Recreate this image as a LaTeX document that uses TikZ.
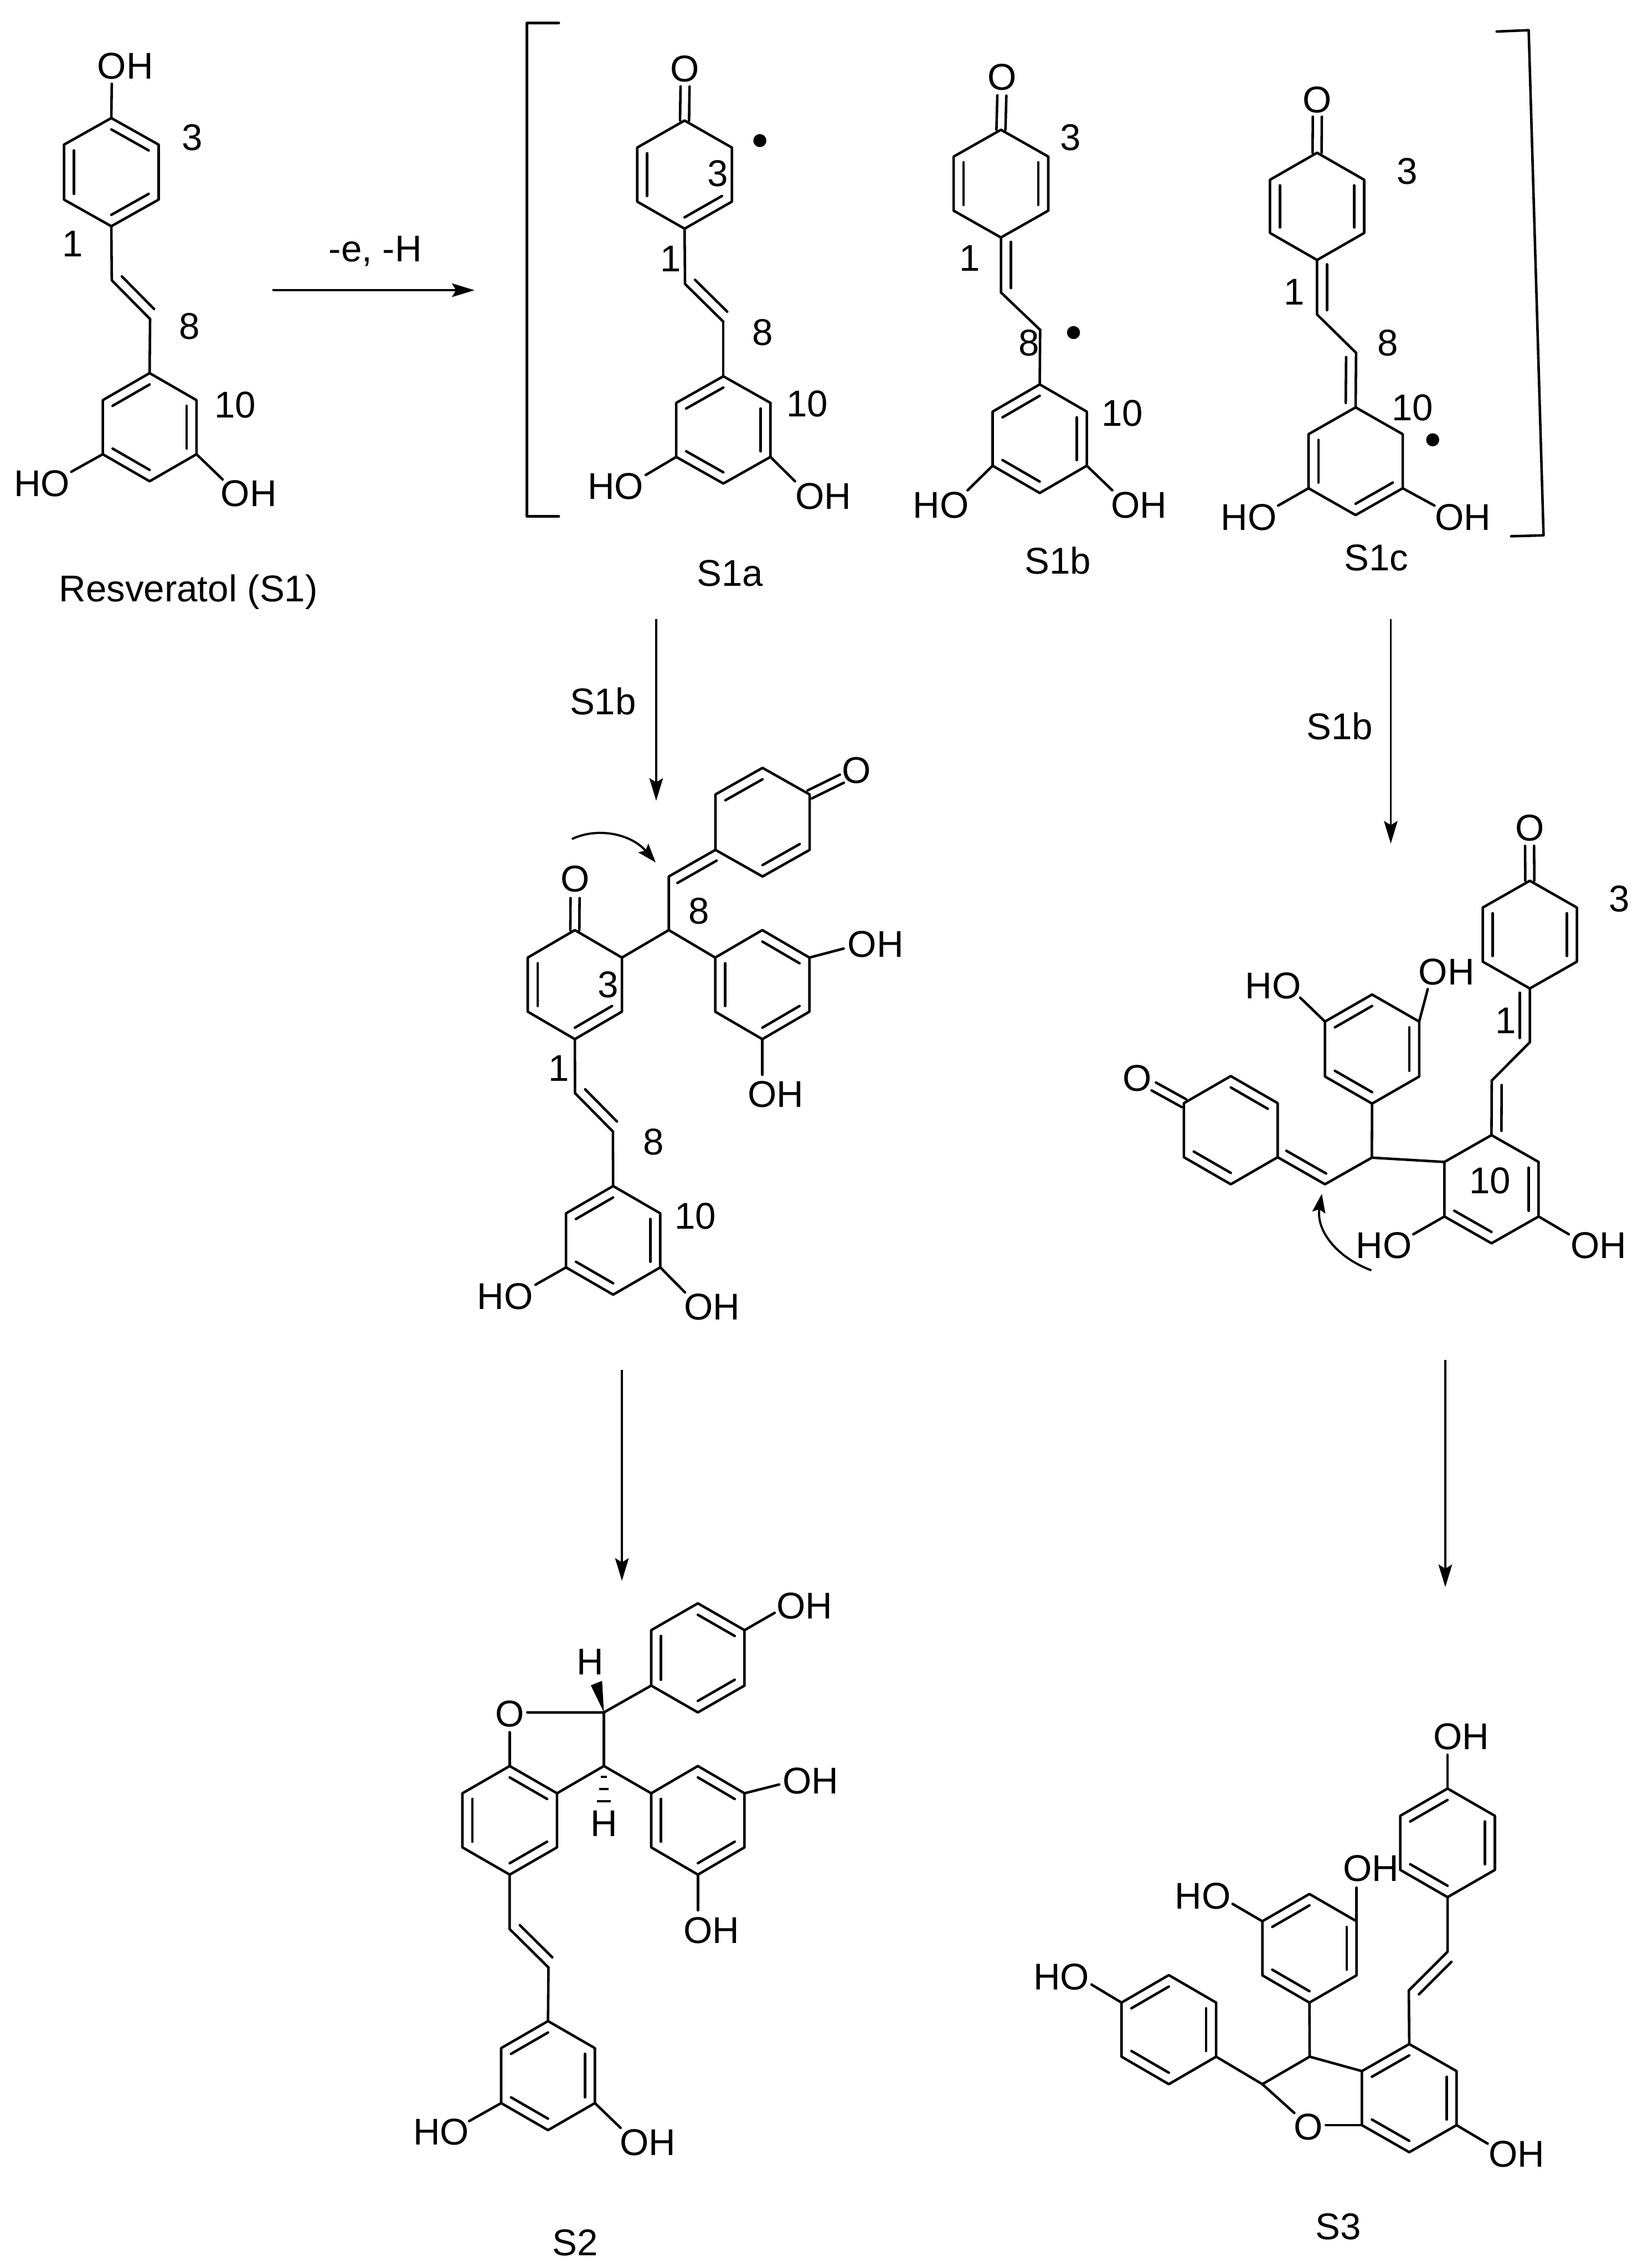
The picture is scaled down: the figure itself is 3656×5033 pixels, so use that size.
\documentclass[tikz,border=0pt]{standalone}
\usepackage{fontspec}
\setmainfont{Liberation Sans}
\usetikzlibrary{calc,arrows.meta}
\tikzset{
  bond/.style={line width=.056cm,line cap=round,line join=round},
  rxnarrow/.style={line width=.048cm,-{Stealth[length=.5cm,width=.3cm,inset=.09cm]}},
  curlyarrow/.style={line width=.048cm,-{Stealth[length=.42cm,width=.29cm,inset=.07cm]}},
  lbl/.style={inner sep=0pt,outer sep=0pt,text height=.58cm,text depth=0pt,anchor=center,font=\fontsize{23.5}{23.5}\selectfont},
  radical/.style={circle,fill=black,inner sep=0pt,minimum size=.29cm},
}
% name, cx, cy, rx, ry(outer), ry(inner)
\newcommand{\hexring}[6]{%
  \coordinate (#1c) at (#2,#3);
  \coordinate (#1-1) at (#2,{#3-#5});
  \coordinate (#1-2) at ({#2+#4},{#3-#6});
  \coordinate (#1-3) at ({#2+#4},{#3+#6});
  \coordinate (#1-4) at (#2,{#3+#5});
  \coordinate (#1-5) at ({#2-#4},{#3+#6});
  \coordinate (#1-6) at ({#2-#4},{#3-#6});
  \draw[bond] (#1-1)--(#1-2)--(#1-3)--(#1-4)--(#1-5)--(#1-6)--cycle;}
% inner lines of ring double bonds: ring, list of edges i/j
\newcommand{\dblin}[2]{%
  \foreach \i/\j in {#2}{\draw[bond] ($(#1c)!.79!(#1-\i)$) -- ($(#1c)!.79!(#1-\j)$);}}
\newcommand{\dblpar}[3]{%
  \draw[bond] ($(#1)!.08!(#2)!#3!90:(#2)$) -- ($(#2)!.08!(#1)!#3!-90:(#1)$);}
\newcommand{\dblcenter}[2]{%
  \draw[bond] ($(#1)!.1cm!90:(#2)$) -- ($(#2)!.1cm!-90:(#1)$);
  \draw[bond] ($(#1)!.1cm!-90:(#2)$) -- ($(#2)!.1cm!90:(#1)$);}
\newcommand{\pt}[3]{\coordinate (#1) at (#2,#3);}
\newcommand{\bondto}[4]{\coordinate (#2) at (#3,#4); \draw[bond] (#1) -- (#2);}
\newcommand{\chemlab}[4]{\node[lbl] (#1) at (#2,#3) {#4};}
\begin{document}
\begin{tikzpicture}[x=.01cm,y=-.01cm]
\useasboundingbox (0,0) rectangle (3656,5033);

% ---------- S1 ----------
\hexring{aA}{247}{382}{105}{120}{61}
\dblin{aA}{1/2,3/4,5/6}
\bondto{aA-1}{aO}{248}{186}
\pt{av1}{248}{622}\pt{av2}{333}{708}
\draw[bond] (aA-4)--(av1)--(av2);
\dblpar{av1}{av2}{.22cm}
\hexring{aB}{332}{948}{104}{120}{60}
\draw[bond] (av2)--(aB-1);
\dblin{aB}{6/1,2/3,4/5}
\bondto{aB-5}{aHOe}{158}{1047}
\bondto{aB-3}{aOHe}{494}{1064}
\chemlab{aOH1}{278}{146}{OH}
\chemlab{a3}{427}{304}{3}
\chemlab{a1}{161}{541}{1}
\chemlab{a8}{421}{723}{8}
\chemlab{a10}{522}{898}{10}
\chemlab{aHO}{93}{1072}{HO}
\chemlab{aOH2}{552}{1095}{OH}
\chemlab{aName}{418}{1306}{Resveratol (S1)}

% arrow 1
\chemlab{rxn1}{833}{551}{-e, -H}
\pt{ar1s}{605}{644}\pt{ar1e}{1053}{644}
\draw[rxnarrow] (ar1s)--(ar1e);

% left bracket
\pt{bl1}{1240}{51}\pt{bl2}{1169}{51}\pt{bl3}{1169}{1146}\pt{bl4}{1240}{1146}
\draw[bond] (bl1)--(bl2)--(bl3)--(bl4);

% ---------- S1a ----------
\hexring{bA}{1519}{387.5}{105}{120}{60}
\dblin{bA}{5/6,3/4}
\pt{bO}{1520}{192}
\dblcenter{bO}{bA-1}
\pt{bv1}{1520}{630}\pt{bv2}{1605}{714}
\draw[bond] (bA-4)--(bv1)--(bv2);
\dblpar{bv1}{bv2}{.22cm}
\hexring{bB}{1605}{954}{104.5}{119}{60}
\draw[bond] (bv2)--(bB-1);
\dblin{bB}{6/1,2/3,4/5}
\bondto{bB-5}{bHOe}{1433}{1054}
\bondto{bB-3}{bOHe}{1764}{1068}
\chemlab{bOt}{1520}{152}{O}
\node[radical] (bdot) at (1686,312) {};
\chemlab{b3}{1593}{384}{3}
\chemlab{b1}{1488}{574}{1}
\chemlab{b8}{1692}{737}{8}
\chemlab{b10}{1791}{896}{10}
\chemlab{bHO}{1366}{1079}{HO}
\chemlab{bOH}{1827}{1101}{OH}
\chemlab{bName}{1620}{1272}{S1a}

% ---------- S1b ----------
\hexring{cA}{2221}{407.5}{105}{119.5}{60}
\dblin{cA}{5/6,2/3}
\pt{cO}{2223}{212}
\dblcenter{cO}{cA-1}
\pt{cv1}{2221}{649}\pt{cv2}{2308}{732}
\draw[bond] (cA-4)--(cv1)--(cv2);
\dblpar{cA-4}{cv1}{.22cm}
\hexring{cB}{2307}{973.5}{104.5}{120.5}{60}
\draw[bond] (cv2)--(cB-1);
\dblin{cB}{6/1,2/3,4/5}
\bondto{cB-5}{cHOe}{2147}{1088}
\bondto{cB-3}{cOHe}{2468}{1088}
\chemlab{cOt}{2223}{171}{O}
\chemlab{c3}{2376}{304}{3}
\chemlab{c1}{2152}{573}{1}
\chemlab{c8}{2283}{761}{8}
\node[radical] (cdot) at (2382,738) {};
\chemlab{c10}{2490}{916}{10}
\chemlab{cHO}{2088}{1121}{HO}
\chemlab{cOH}{2527}{1121}{OH}
\chemlab{cName}{2347}{1244}{S1b}

% ---------- S1c ----------
\hexring{dA}{2922.5}{458}{104.5}{119}{59}
\dblin{dA}{5/6,2/3}
\pt{dO}{2923}{259}
\dblcenter{dO}{dA-1}
\pt{dv1}{2922.5}{698}\pt{dv2}{3009}{783}
\draw[bond] (dA-4)--(dv1)--(dv2);
\dblpar{dA-4}{dv1}{.22cm}
\hexring{dB}{3008}{1023.5}{104.5}{119.5}{60}
\draw[bond] (dv2)--(dB-1);
\dblpar{dv2}{dB-1}{-.22cm}
\dblin{dB}{5/6,3/4}
\bondto{dB-5}{dHOe}{2836}{1122}
\bondto{dB-3}{dOHe}{3183}{1122}
\chemlab{dOt}{2923}{221}{O}
\chemlab{d3}{3122}{379}{3}
\chemlab{d1}{2872}{648}{1}
\chemlab{d8}{3080}{761}{8}
\chemlab{d10}{3134}{904}{10}
\node[radical] (ddot) at (3179,976) {};
\chemlab{dHO}{2771}{1148}{HO}
\chemlab{dOH}{3246}{1148}{OH}
\chemlab{dName}{3054}{1237}{S1c}

% right bracket
\pt{br1}{3321}{70}\pt{br2}{3392}{67}\pt{br3}{3425}{1188}\pt{br4}{3353}{1190}
\draw[bond] (br1)--(br2)--(br3)--(br4);

% arrows S1b
\chemlab{rxn2}{1338}{1557}{S1b}
\pt{ar2s}{1456}{1374}\pt{ar2e}{1456}{1777}
\draw[rxnarrow] (ar2s)--(ar2e);
\chemlab{rxn3}{2973}{1612}{S1b}
\pt{ar3s}{3086}{1374}\pt{ar3e}{3086}{1872}
\draw[rxnarrow] (ar3s)--(ar3e);

% ---------- adduct, left ----------
\hexring{eT}{1692}{1824.5}{104.5}{120.5}{61.5}
\dblin{eT}{6/1,3/4}
\pt{eOe}{1868}{1728}
\dblcenter{eT-2}{eOe}
\pt{ev1}{1484}{1945}\pt{eC}{1484}{2064}
\draw[bond] (eT-5)--(ev1)--(eC);
\dblpar{eT-5}{ev1}{.22cm}
\hexring{eL}{1275.5}{2185}{104.5}{121}{60}
\dblin{eL}{5/6,3/4}
\hexring{eR}{1691.5}{2185}{104.5}{121}{60}
\dblin{eR}{1/2,5/6,3/4}
\draw[bond] (eL-2)--(eC)--(eR-6);
\pt{eO2}{1276}{1993}
\dblcenter{eO2}{eL-1}
\bondto{eR-2}{eOHe1}{1872}{2105}
\bondto{eR-4}{eOHe2}{1691.5}{2385}
\pt{ew1}{1276}{2426}\pt{ew2}{1360}{2511}
\draw[bond] (eL-4)--(ew1)--(ew2);
\dblpar{ew1}{ew2}{.22cm}
\hexring{eB}{1360.5}{2752.5}{104.5}{120.5}{60}
\draw[bond] (ew2)--(eB-1);
\dblin{eB}{6/1,2/3,4/5}
\bondto{eB-5}{eHOe}{1188}{2851}
\bondto{eB-3}{eOHe3}{1520}{2868}
\chemlab{eO1t}{1901}{1709}{O}
\chemlab{eO2t}{1276}{1950}{O}
\chemlab{e3}{1350}{2184}{3}
\chemlab{e8a}{1551}{2021}{8}
\chemlab{eOH1}{1943}{2095}{OH}
\chemlab{eOH2}{1721}{2428}{OH}
\chemlab{e1}{1240}{2370}{1}
\chemlab{e8b}{1450}{2533}{8}
\chemlab{e10}{1543}{2698}{10}
\chemlab{eHO}{1121}{2876}{HO}
\chemlab{eOH3}{1580}{2900}{OH}
\pt{ecs}{1269}{1862}\pt{ece}{1455}{1914}
\draw[curlyarrow] (ecs) .. controls (1325,1835) and (1400,1850) .. (ece);

% ---------- adduct, right ----------
\hexring{fT}{3394.5}{2074}{104.5}{119.5}{60}
\dblin{fT}{5/6,2/3}
\pt{fO}{3394}{1877}
\dblcenter{fO}{fT-1}
\pt{fv1}{3394.5}{2313}\pt{fv2}{3310}{2398}
\draw[bond] (fT-4)--(fv1)--(fv2);
\dblpar{fT-4}{fv1}{-.22cm}
\hexring{fR}{3309.5}{2639}{104.5}{120}{60.5}
\draw[bond] (fv2)--(fR-1);
\dblpar{fv2}{fR-1}{.22cm}
\dblin{fR}{2/3,4/5}
\bondto{fR-5}{fHOe}{3136}{2739}
\bondto{fR-3}{fOHe}{3481}{2739}
\pt{fC}{3044}{2569}
\draw[bond] (fC)--(fR-6);
\hexring{fU}{3044.5}{2328}{104.5}{121}{61}
\dblin{fU}{6/1,2/3,4/5}
\draw[bond] (fC)--(fU-4);
\bondto{fU-6}{fHOe2}{2885}{2214}
\bondto{fU-2}{fOHe2}{3168}{2195}
\hexring{fL}{2731}{2508}{104}{120}{60}
\dblin{fL}{1/2,4/5}
\pt{fv3}{2940}{2628}
\draw[bond] (fC)--(fv3)--(fL-3);
\dblpar{fv3}{fL-3}{-.22cm}
\pt{fOe}{2560}{2411}
\dblcenter{fL-6}{fOe}
\chemlab{fOt}{3394}{1837}{O}
\chemlab{f3}{3593}{1994}{3}
\chemlab{f1}{3341}{2264}{1}
\chemlab{f10}{3306}{2620}{10}
\chemlab{fHO}{3071}{2763}{HO}
\chemlab{fOH}{3547}{2763}{OH}
\chemlab{fHO2}{2825}{2187}{HO}
\chemlab{fOH2}{3210}{2156}{OH}
\chemlab{fOt2}{2523}{2392}{O}
\pt{fcs}{3043}{2819}\pt{fce}{2933}{2649}
\draw[curlyarrow] (fcs) .. controls (2965,2790) and (2920,2730) .. (fce);

% arrows down
\pt{ar4s}{1380}{3040}\pt{ar4e}{1380}{3508}
\draw[rxnarrow] (ar4s)--(ar4e);
\pt{ar5s}{3207}{3018}\pt{ar5e}{3207}{3522}
\draw[rxnarrow] (ar5s)--(ar5e);

% ---------- S2 ----------
\hexring{gT}{1548.5}{3679}{103.5}{121}{61.5}
\dblin{gT}{1/2,5/6,3/4}
\bondto{gT-2}{gOHe1}{1719}{3579}
\pt{gC2}{1340}{3800}\pt{gC3}{1340}{3919}
\pt{gOe}{1170}{3800}\pt{gOd}{1131}{3844}
\draw[bond] (gT-5)--(gC2)--(gOe);
\draw[bond] (gC2)--(gC3);
\hexring{gL}{1131}{4039.5}{105}{120.5}{60}
\dblin{gL}{1/2,5/6,3/4}
\draw[bond] (gOd)--(gL-1);
\draw[bond] (gC3)--(gL-2);
\hexring{gR}{1548.5}{4039.5}{103.5}{120.5}{60}
\dblin{gR}{1/2,5/6,3/4}
\draw[bond] (gC3)--(gR-6);
\bondto{gR-2}{gOHe2}{1729}{3960}
\bondto{gR-4}{gOHe3}{1548.5}{4239}
\pt{gw1}{1311}{3740}\pt{gw2}{1336}{3730}
\fill (gC2)--(gw1)--(gw2)--cycle;
\foreach \xa/\xb/\yy in {1333/1347/3943,1329/1351/3970,1324/1355/3997}
  {\draw[line width=.045cm] (\xa,\yy)--(\xb,\yy);}
\pt{gv1}{1131}{4281}\pt{gv2}{1217}{4366}
\draw[bond] (gL-4)--(gv1)--(gv2);
\dblpar{gv1}{gv2}{.22cm}
\hexring{gB}{1216}{4606}{104}{121}{61}
\draw[bond] (gv2)--(gB-1);
\dblin{gB}{6/1,2/3,4/5}
\bondto{gB-5}{gHOe}{1041}{4707}
\bondto{gB-3}{gOHe4}{1377}{4722}
\chemlab{gOH1}{1785}{3563}{OH}
\chemlab{gH1}{1309}{3687}{H}
\chemlab{gO}{1131}{3803}{O}
\chemlab{gOH2}{1799}{3952}{OH}
\chemlab{gH2}{1340}{4046}{H}
\chemlab{gOH3}{1579}{4283}{OH}
\chemlab{gHO}{979}{4730}{HO}
\chemlab{gOH4}{1437}{4754}{OH}
\chemlab{gName}{1276}{4976}{S2}

% ---------- S3 ----------
\hexring{hT}{3212}{4089.5}{105}{120.5}{60}
\dblin{hT}{6/1,2/3,4/5}
\bondto{hT-1}{hOHe1}{3212}{3894}
\pt{hv1}{3212}{4331}\pt{hv2}{3126}{4417}
\draw[bond] (hT-4)--(hv1)--(hv2);
\dblpar{hv1}{hv2}{.22cm}
\hexring{hR}{3127}{4656}{105}{120}{60}
\draw[bond] (hv2)--(hR-1);
\dblin{hR}{6/1,2/3,4/5}
\bondto{hR-3}{hOHe2}{3301}{4757}
\pt{hC2}{2801}{4625}\pt{hC3}{2906}{4564}
\pt{hOa}{2942}{4716}\pt{hOb}{2872}{4689}
\draw[bond] (hOa)--(hR-5);
\draw[bond] (hOb)--(hC2)--(hC3)--(hR-6);
\hexring{hM}{2905.5}{4323.5}{104.5}{120.5}{60}
\dblin{hM}{6/1,2/3,4/5}
\draw[bond] (hC3)--(hM-4);
\bondto{hM-6}{hHOe}{2735}{4225}
\bondto{hM-2}{hOHe3}{3010}{4189}
\hexring{hL}{2593.5}{4504}{105}{121}{60}
\dblin{hL}{6/1,2/3,4/5}
\draw[bond] (hC2)--(hL-3);
\bondto{hL-6}{hHOe2}{2422}{4404}
\chemlab{hOH1}{3242}{3853}{OH}
\chemlab{hOH2}{3365}{4780}{OH}
\chemlab{hO}{2903}{4720}{O}
\chemlab{hHO}{2669}{4207}{HO}
\chemlab{hOH3}{3042}{4146}{OH}
\chemlab{hHO2}{2355}{4386}{HO}
\chemlab{hName}{2970}{4941}{S3}
\end{tikzpicture}
\end{document}
